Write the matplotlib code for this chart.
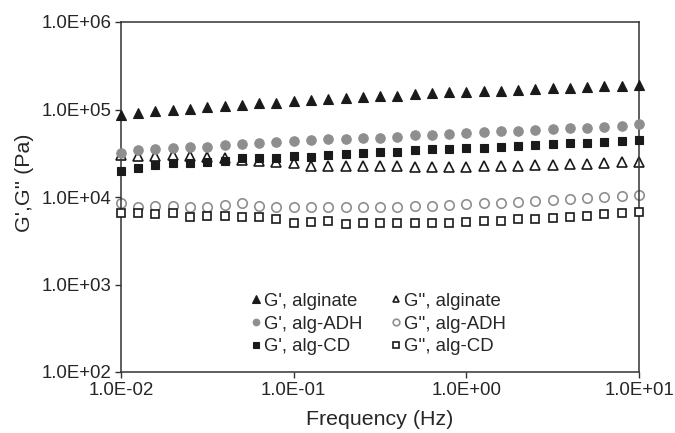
import numpy as np
import matplotlib
matplotlib.use("Agg")
import matplotlib.pyplot as plt
from matplotlib.ticker import FixedLocator, NullLocator

plt.rcParams['font.family'] = ['Liberation Sans', 'DejaVu Sans']

# Frequency (Hz): 31 points, 10 per decade, 0.01 .. 10
freq = [0.01, 0.0126, 0.0158, 0.02, 0.0251, 0.0316, 0.0398, 0.0501, 0.0631, 0.0794,
        0.1, 0.126, 0.158, 0.2, 0.251, 0.316, 0.398, 0.501, 0.631, 0.794,
        1.0, 1.26, 1.58, 2.0, 2.51, 3.16, 3.98, 5.01, 6.31, 7.94, 10.0]

g1_alginate = [86500, 90400, 96000, 98700, 102000, 107000, 110000, 112000, 118000, 120000,
               124000, 128000, 132000, 136000, 140000, 142000, 144000, 149000, 153000, 157000,
               158000, 161000, 164000, 167000, 171000, 175000, 178000, 181000, 184000, 187000, 190000]
g1_adh = [31600, 34400, 35100, 36000, 36900, 37600, 38900, 40000, 41000, 42200,
          43300, 44400, 45600, 46400, 46800, 47600, 49000, 50700, 51500, 52500,
          53900, 54800, 56200, 57300, 58900, 59900, 60900, 62000, 63600, 65300, 67600]
g1_cd = [19800, 21600, 23200, 24700, 24700, 25300, 25600, 27700, 28200, 27700,
         29400, 28600, 30200, 31000, 31500, 32400, 33000, 34400, 35100, 35700,
         36000, 36600, 37300, 38300, 38900, 40000, 41000, 41800, 42500, 43300, 44400]
g2_alginate = [30100, 29800, 29800, 30100, 29800, 28900, 28200, 26500, 25600, 25100,
               24700, 22900, 22600, 22600, 22500, 22500, 22400, 22300, 22200, 22200,
               22200, 22400, 22800, 22800, 23000, 23400, 23800, 24100, 24300, 24900, 25300]
g2_adh = [8470, 7760, 7960, 7830, 7690, 7690, 8100, 8470, 7960, 7760,
          7760, 7620, 7620, 7620, 7690, 7690, 7760, 7890, 7960, 8100,
          8250, 8470, 8470, 8770, 9000, 9240, 9400, 9740, 10000, 10300, 10500]
g2_cd = [6510, 6510, 6400, 6510, 5960, 6070, 6070, 5860, 5860, 5560,
         5090, 5220, 5370, 4910, 5000, 5000, 5000, 5000, 5000, 5090,
         5220, 5320, 5370, 5560, 5650, 5750, 5860, 6120, 6340, 6510, 6680]

labels = ["G', alginate", "G', alg-ADH", "G', alg-CD",
          "G'', alginate", "G'', alg-ADH", "G'', alg-CD"]

x_ticks = [0.01, 0.1, 1.0, 10.0]
x_ticklabels = ["1.0E-02", "1.0E-01", "1.0E+00", "1.0E+01"]
y_ticks = [1e2, 1e3, 1e4, 1e5, 1e6]
y_ticklabels = ["1.0E+02", "1.0E+03", "1.0E+04", "1.0E+05", "1.0E+06"]

black = '#1a1a1a'
gray = '#8e8e8e'
txt = '#262626'

fig = plt.figure(figsize=(6.75, 4.33), dpi=100)
ax = fig.add_axes([121/675, 1 - 372/433, 518/675, 350/433])

h = []
h.append(ax.plot(freq, g1_alginate, linestyle='none', marker='^', ms=7.6,
                 mfc=black, mec=black, mew=0.8, clip_on=False, zorder=5)[0])
h.append(ax.plot(freq, g1_adh, linestyle='none', marker='o', ms=6.8,
                 mfc=gray, mec=gray, mew=0.8, clip_on=False, zorder=3)[0])
h.append(ax.plot(freq, g1_cd, linestyle='none', marker='s', ms=6.0,
                 mfc=black, mec=black, mew=0.8, clip_on=False, zorder=4)[0])
h.append(ax.plot(freq, g2_alginate, linestyle='none', marker='^', ms=6.6,
                 mfc='white', mec=black, mew=1.2, clip_on=False, zorder=2)[0])
h.append(ax.plot(freq, g2_adh, linestyle='none', marker='o', ms=6.8,
                 mfc='white', mec=gray, mew=1.2, clip_on=False, zorder=2)[0])
h.append(ax.plot(freq, g2_cd, linestyle='none', marker='s', ms=5.8,
                 mfc='white', mec=black, mew=1.2, clip_on=False, zorder=3)[0])

ax.set_xscale('log')
ax.set_yscale('log')
ax.set_xlim(x_ticks[0], x_ticks[-1])
ax.set_ylim(y_ticks[0], y_ticks[-1])
ax.xaxis.set_major_locator(FixedLocator(x_ticks))
ax.yaxis.set_major_locator(FixedLocator(y_ticks))
ax.xaxis.set_minor_locator(NullLocator())
ax.yaxis.set_minor_locator(NullLocator())
ax.set_xticklabels(x_ticklabels)
ax.set_yticklabels(y_ticklabels)
ax.tick_params(axis='both', which='major', direction='out', length=4, width=1.0,
               color='#333333', labelsize=13.4, labelcolor=txt, pad=3)

for s in ax.spines.values():
    s.set_color('#333333')
    s.set_linewidth(1.1)

ax.set_xlabel("Frequency (Hz)", fontsize=15.4, color=txt, labelpad=8)
ax.set_ylabel("G',G'' (Pa)", fontsize=15.4, color=txt)
ax.yaxis.set_label_coords(-0.168, 0.54)

leg = ax.legend(h, labels, ncol=2, loc='center', bbox_to_anchor=(0.497, 0.137),
                frameon=False, fontsize=13.4, markerscale=0.7, handlelength=0.5,
                handletextpad=0.2, columnspacing=1.55, labelspacing=0.3,
                borderpad=0.2)
for t in leg.get_texts():
    t.set_color(txt)

fig.savefig("out.png", dpi=100)
